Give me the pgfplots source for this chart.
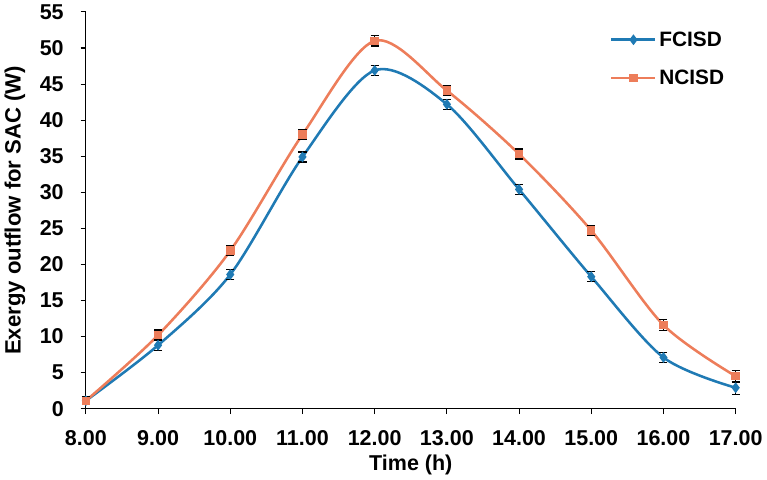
\documentclass[border=0pt]{standalone}
\usepackage{pgfplots}
\pgfplotsset{compat=1.18}
\usepackage{fontspec}
\setmainfont{Liberation Sans}
\definecolor{fblue}{RGB}{31,122,180}
\definecolor{norange}{RGB}{237,125,90}
\begin{document}
\begin{tikzpicture}
\begin{axis}[
  scale only axis,
  width=484pt, height=295.5pt,
  xmin=8, xmax=17, ymin=0, ymax=55,
  xtick={8,...,17}, ytick={0,5,...,55},
  axis x line*=bottom, axis y line*=left,
  axis line style={black, line width=0.8pt},
  tick style={black, line width=0.8pt},
  tick align=outside, major tick length=4pt,
  xticklabel={\pgfmathprintnumber[fixed,fixed zerofill,precision=2]{\tick}},
  /pgf/number format/assume math mode=true,
  tick label style={font=\fontsize{16}{18}\selectfont\bfseries},
  xticklabel style={yshift=-9pt},
  yticklabel style={xshift=-9pt},
  xlabel style={font=\fontsize{16}{18}\selectfont\bfseries, yshift=0pt},
  ylabel style={font=\fontsize{16.5}{18}\selectfont\bfseries, yshift=4pt},
  xlabel={Time (h)}, ylabel={Exergy outflow for SAC (W)},
  legend style={draw=none, at={(0.993,0.965)}, anchor=north east, font=\fontsize{15.5}{17}\selectfont\bfseries, row sep=12pt},
  legend cell align=left,
  legend image code/.code={
    \draw[#1, mark=none] (0cm,0cm) -- (1.15cm,0cm);
    \draw[#1, only marks] plot coordinates {(0.575cm,0cm)};
  },
  clip=false,
]
\addplot+[fblue, line width=1.9pt, smooth, tension=0.5, mark=diamond*, mark size=2.5pt, mark options={fill=fblue, draw=fblue},
  error bars/.cd, y dir=both, y explicit, error bar style={black, line width=1pt}, error mark options={rotate=90, mark size=3pt, black, line width=1pt}]
coordinates {
(8,1.1) +- (0,0.5)
(9,8.8) +- (0,0.7)
(10,18.6) +- (0,0.7)
(11,34.9) +- (0,0.7)
(12,46.9) +- (0,0.7)
(13,42.2) +- (0,0.7)
(14,30.4) +- (0,0.7)
(15,18.3) +- (0,0.7)
(16,7.1) +- (0,0.7)
(17,2.9) +- (0,0.9)
};
\addlegendentry{FCISD}
\addplot+[norange, line width=1.9pt, smooth, tension=0.5, mark=square*, mark size=2.2pt, mark options={fill=norange, draw=norange},
  error bars/.cd, y dir=both, y explicit, error bar style={black, line width=1pt}, error mark options={rotate=90, mark size=3pt, black, line width=1pt}]
coordinates {
(8,1.1) +- (0,0.5)
(9,10.2) +- (0,0.7)
(10,21.9) +- (0,0.7)
(11,38.0) +- (0,0.7)
(12,51.0) +- (0,0.7)
(13,44.1) +- (0,0.7)
(14,35.3) +- (0,0.7)
(15,24.7) +- (0,0.7)
(16,11.6) +- (0,0.8)
(17,4.5) +- (0,0.8)
};
\addlegendentry{NCISD}
\end{axis}
\end{tikzpicture}
\end{document}
